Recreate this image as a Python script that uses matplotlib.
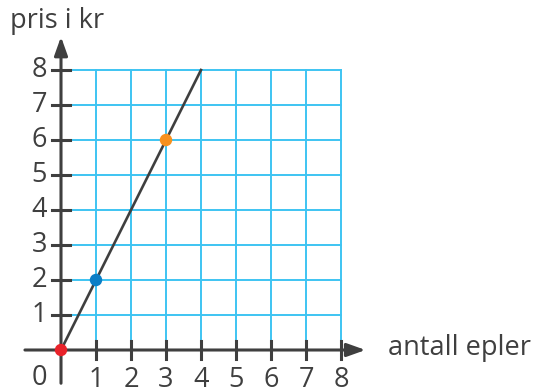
import matplotlib.pyplot as plt

# data
x_ticks = [1, 2, 3, 4, 5, 6, 7, 8]
y_ticks = [1, 2, 3, 4, 5, 6, 7, 8]
line_x = [0, 4]
line_y = [0, 8]
point_x = [0, 1, 3]
point_y = [0, 2, 6]
point_colors = ["#e8222a", "#0b7ec6", "#f7901e"]

GRID = "#3ec4f2"
DARK = "#3f3f3f"
FS = 19.5

plt.rcParams["font.family"] = ["Open Sans", "DejaVu Sans"]

fig = plt.figure(figsize=(5.41, 3.91), dpi=100, facecolor="white")
ax = fig.add_axes([0, 0, 1, 1])
ax.set_xlim(-61 / 35, 480 / 35)
ax.set_ylim(-41 / 35, 350 / 35)
ax.set_axis_off()

# grid
for x in x_ticks:
    ax.plot([x, x], [0.22, 8], color=GRID, lw=1.4, zorder=1)
for y in y_ticks:
    ax.plot([0.25, 8], [y, y], color=GRID, lw=1.4, zorder=1)

# axes with arrows
arrow = dict(arrowstyle="-|>,head_length=0.7,head_width=0.25", color=DARK,
             lw=2.2, mutation_scale=16, shrinkA=0, shrinkB=0)
ax.annotate("", xy=(8.7, 0), xytext=(-1.03, 0), arrowprops=arrow, zorder=3)
ax.annotate("", xy=(0, 8.95), xytext=(0, -0.95), arrowprops=arrow, zorder=3)

for x in x_ticks:
    ax.plot([x, x], [-0.25, 0.25], color=DARK, lw=2.2, zorder=3)
    ax.text(x, -0.45, str(x), ha="center", va="top", fontsize=FS, color=DARK)
for y in y_ticks:
    ax.plot([-0.25, 0.25], [y, y], color=DARK, lw=2.2, zorder=3)
    ax.text(-0.4, y, str(y), ha="right", va="center", fontsize=FS, color=DARK)
ax.text(-0.4, -0.4, "0", ha="right", va="top", fontsize=FS, color=DARK)

ax.text(-1.45, 9.4, "pris i kr", ha="left", va="center", fontsize=FS, color=DARK)
ax.text(9.35, 0.05, "antall epler", ha="left", va="center", fontsize=FS, color=DARK)

# line and points
ax.plot(line_x, line_y, color=DARK, lw=1.9, zorder=4)
ax.scatter(point_x, point_y, s=80, c=point_colors, zorder=5, linewidths=0)

fig.savefig("out.png", dpi=100)
